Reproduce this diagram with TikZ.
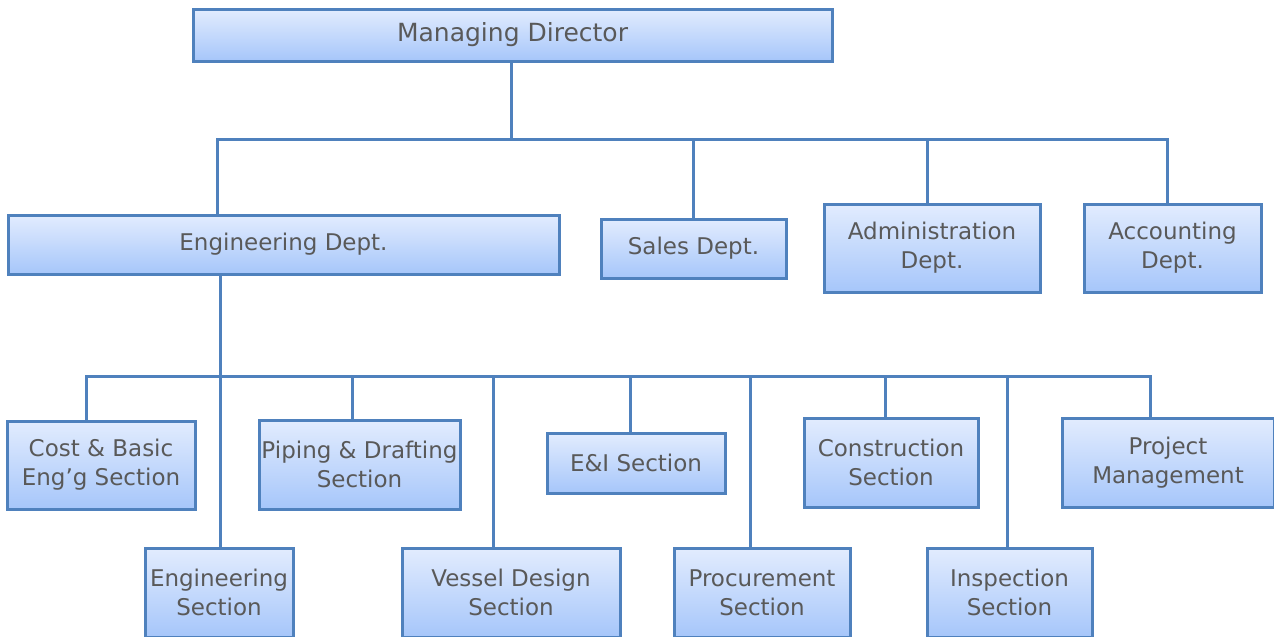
\documentclass[tikz,border=0pt]{standalone}
\usepackage{fontspec}
\setmainfont{DejaVu Sans}
\usepackage{tikz}
\definecolor{cus-line}{RGB}{79,129,189}
\definecolor{cus-top}{RGB}{226,236,254}
\definecolor{cus-bottom}{RGB}{166,198,250}
\definecolor{cus-text}{RGB}{89,89,89}

\begin{document}
\begin{tikzpicture}[x=1pt, y=-1pt,
	box/.style={draw=cus-line, line width=3pt, top color=cus-top, bottom color=cus-bottom,
		text=cus-text, font=\fontsize{23}{29}\selectfont, align=center, inner sep=0pt},
	wire/.style={draw=cus-line, line width=3pt, line cap=rect}]
\useasboundingbox (0,0) rectangle (1274,637);

% top level
\node [box, minimum width=639pt, minimum height=52pt, font=\fontsize{25}{30}\selectfont] (md) at (512.5,35) {Managing Director};

% departments
\node [box, minimum width=551pt, minimum height=59pt] (eng) at (283.5,244.5) {Engineering Dept.};
\node [box, minimum width=185pt, minimum height=59pt] (sales) at (693.5,248.5) {Sales Dept.};
\node [box, minimum width=216pt, minimum height=88pt] (admin) at (932,248) {Administration\\Dept.};
\node [box, minimum width=177pt, minimum height=88pt] (acct) at (1172.5,248) {Accounting\\Dept.};

% sections
\node [box, minimum width=188pt, minimum height=88pt] (cost) at (101,465) {Cost \& Basic\\Eng’g Section};
\node [box, minimum width=148pt, minimum height=89pt] (engsec) at (219,592.5) {Engineering\\Section};
\node [box, minimum width=201pt, minimum height=89pt] (piping) at (359.5,464.5) {Piping \& Drafting\\Section};
\node [box, minimum width=218pt, minimum height=89pt] (vessel) at (511,592.5) {Vessel Design\\Section};
\node [box, minimum width=178pt, minimum height=60pt] (ei) at (636,463) {E\&I Section};
\node [box, minimum width=176pt, minimum height=89pt] (proc) at (762,592.5) {Procurement\\Section};
\node [box, minimum width=174pt, minimum height=89pt] (constr) at (891,462.5) {Construction\\Section};
\node [box, minimum width=165pt, minimum height=89pt] (insp) at (1009.5,592.5) {Inspection\\Section};
\node [box, minimum width=212pt, minimum height=89pt] (pm) at (1168,462.5) {Project\\Management};

% connectors, first level
\coordinate (b1w) at (217,139);
\coordinate (b1e) at (1167,139);
\draw [wire] (511,0 |- md.south) -- (511,0 |- b1w);
\draw [wire] (b1w) -- (b1e);
\foreach \n/\x in {eng/217, sales/693, admin/927, acct/1167}{
	\draw [wire] (\x,0 |- b1w) -- (\x,0 |- \n.north);
}

% connectors, second level
\coordinate (b2w) at (86,376);
\coordinate (b2e) at (1150,376);
\draw [wire] (220,0 |- eng.south) -- (220,0 |- b2w);
\draw [wire] (b2w) -- (b2e);
\foreach \n/\x in {cost/86, engsec/220, piping/352, vessel/493, ei/630, proc/750, constr/885, insp/1007, pm/1150}{
	\draw [wire] (\x,0 |- b2w) -- (\x,0 |- \n.north);
}
\end{tikzpicture}
\end{document}
